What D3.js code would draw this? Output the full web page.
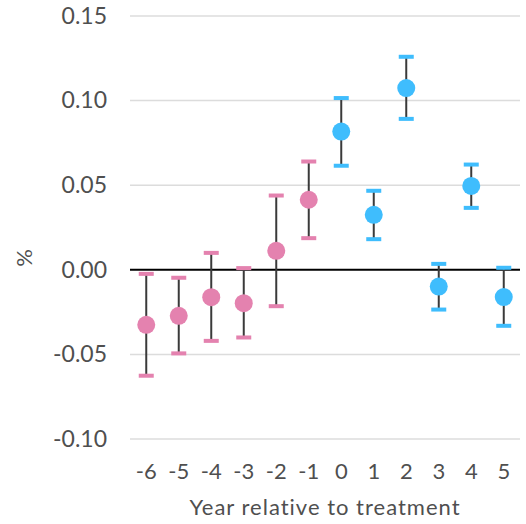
<!DOCTYPE html>
<html>
<head>
<meta charset="utf-8">
<script src="https://cdn.jsdelivr.net/npm/d3@7"></script>
<style>
  html, body { margin: 0; padding: 0; background: #fff; }
  svg { display: block; font-family: Lato, "Open Sans", sans-serif; }
</style>
</head>
<body>
<svg id="chart" width="526" height="524"></svg>
<script>
// Event-study estimates by year relative to treatment
const years    = [-6, -5, -4, -3, -2, -1, 0, 1, 2, 3, 4, 5];
const estimate = [-0.0325, -0.0272, -0.0162, -0.0197, 0.0112, 0.0414, 0.0817, 0.0325, 0.1074, -0.0099, 0.0496, -0.0161];
const lower    = [-0.0626, -0.0494, -0.0420, -0.0400, -0.0215, 0.0187, 0.0615, 0.0181, 0.0892, -0.0235, 0.0366, -0.0331];
const upper    = [-0.0024, -0.0047, 0.0100, 0.0010, 0.0439, 0.0640, 0.1015, 0.0467, 0.1259, 0.0035, 0.0622, 0.0012];
const yTicks   = [-0.10, -0.05, 0.00, 0.05, 0.10, 0.15];

const preColor = "#e482af";
const postColor = "#3fbdfd";
const textColor = "#4f4f4f";

const rows = years.map((yr, i) => ({ yr, est: estimate[i], lo: lower[i], hi: upper[i] }));

const svg = d3.select("#chart");
const x = d3.scaleBand().domain(years).range([130, 520]);
const y = d3.scaleLinear().domain([-0.10, 0.15]).range([439, 16]);
const cx = d => x(d) + x.bandwidth() / 2;
const col = d => d.yr < 0 ? preColor : postColor;

// horizontal gridlines
svg.append("g").selectAll("line").data(yTicks.filter(t => t !== 0)).join("line")
  .attr("x1", 130).attr("x2", 520)
  .attr("y1", d => y(d)).attr("y2", d => y(d))
  .attr("stroke", "#dcdcdc").attr("stroke-width", 1.5);

// zero reference line
svg.append("line")
  .attr("x1", 130).attr("x2", 520)
  .attr("y1", y(0)).attr("y2", y(0))
  .attr("stroke", "#000").attr("stroke-width", 2);

// y axis labels
const yAxis = svg.append("g").attr("transform", "translate(111,0)")
  .call(d3.axisLeft(y).tickValues(yTicks).tickSize(0).tickPadding(4));
yAxis.select(".domain").remove();
yAxis.selectAll("text").attr("font-size", 23).attr("fill", textColor)
  .attr("font-family", "Lato, sans-serif")
  .text(d => d3.format(".2f")(d).replace("−", "-"));

// x axis labels
const xAxis = svg.append("g").attr("transform", "translate(0,457)")
  .call(d3.axisBottom(x).tickSize(0).tickPadding(6).tickFormat(d => String(d)));
xAxis.select(".domain").remove();
xAxis.selectAll("text").attr("font-size", 22).attr("fill", textColor)
  .attr("font-family", "Lato, sans-serif");

// axis titles
svg.append("text")
  .attr("x", 325).attr("y", 515)
  .attr("text-anchor", "middle")
  .attr("font-size", 22).attr("letter-spacing", 1).attr("fill", textColor)
  .text("Year relative to treatment");
svg.append("text")
  .attr("transform", `translate(32,${y(0.007)}) rotate(-90)`)
  .attr("text-anchor", "middle")
  .attr("font-size", 22).attr("fill", textColor)
  .text("%");

// confidence intervals
const marks = svg.append("g");
marks.selectAll("line.ci").data(rows).join("line").attr("class", "ci")
  .attr("x1", d => cx(d.yr)).attr("x2", d => cx(d.yr))
  .attr("y1", d => y(d.lo)).attr("y2", d => y(d.hi))
  .attr("stroke", "#3a3a3a").attr("stroke-width", 2);

const capW = 15;
["lo", "hi"].forEach(k => {
  marks.selectAll(`rect.cap-${k}`).data(rows).join("rect").attr("class", `cap-${k}`)
    .attr("x", d => cx(d.yr) - capW / 2).attr("width", capW)
    .attr("y", d => y(d[k]) - 2).attr("height", 4)
    .attr("fill", col);
});

// point estimates
marks.selectAll("circle").data(rows).join("circle")
  .attr("cx", d => cx(d.yr)).attr("cy", d => y(d.est))
  .attr("r", 9).attr("fill", col);
</script>
</body>
</html>
